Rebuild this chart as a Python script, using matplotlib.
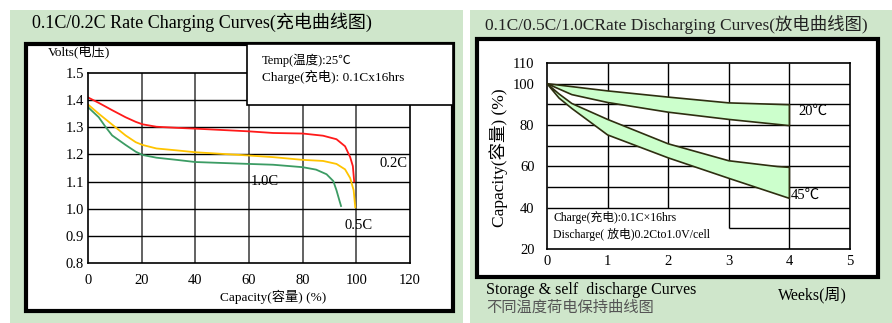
import matplotlib
matplotlib.use('Agg')
import matplotlib.pyplot as plt
from matplotlib.patches import Rectangle

# ---- data: charging curves (left) ----
red_x = [0, 4, 9, 14, 17.8, 20.3, 25.5, 33, 40, 60, 69, 80, 87.6, 92.6, 95.8, 97.7, 98.7, 99.2]
red_y = [1.41, 1.39, 1.363, 1.337, 1.32, 1.311, 1.302, 1.298, 1.295, 1.285, 1.279, 1.277, 1.269,
         1.256, 1.23, 1.19, 1.157, 1.10]

yel_x = [0, 4, 9, 14, 17.8, 20.3, 25.5, 33, 40, 60, 69, 80, 87.6, 92.6, 95.8, 97.7, 99, 99.6]
yel_y = [1.384, 1.35, 1.31, 1.27, 1.245, 1.235, 1.222, 1.215, 1.208, 1.196, 1.19, 1.18, 1.176,
         1.165, 1.145, 1.113, 1.068, 1.005]

grn_x = [0, 4, 6.5, 9, 14, 17.8, 20.3, 25.5, 33, 40, 60, 69, 80, 85, 88.9, 91.4, 92.6, 93.7, 94.3]
grn_y = [1.374, 1.337, 1.302, 1.27, 1.235, 1.21, 1.198, 1.188, 1.18, 1.172, 1.165, 1.162, 1.153,
         1.144, 1.127, 1.102, 1.068, 1.03, 1.01]

volt_ticks = [0.8, 0.9, 1.0, 1.1, 1.2, 1.3, 1.4, 1.5]
cap_ticks = [0, 20, 40, 60, 80, 100, 120]

# ---- data: storage curves (right) ----
w20_up_x = [0, 1, 2, 3, 4]
w20_up_y = [100, 96.5, 93.5, 90.7, 89.8]
w20_lo_x = [0, 0.41, 1, 2, 3, 4]
w20_lo_y = [100, 94.7, 90.9, 86.2, 82.7, 79.7]

w45_up_x = [0, 0.2, 0.41, 1, 2, 3, 3.8, 4]
w45_up_y = [100, 95, 90.4, 82.7, 70.9, 62.7, 59.9, 59.5]
w45_lo_x = [0, 0.2, 0.41, 1, 2, 3, 4]
w45_lo_y = [100, 93, 88, 75.2, 64.1, 54.2, 44.5]

week_ticks = [0, 1, 2, 3, 4, 5]
pct_ticks = [20, 40, 60, 80, 100, 110]

W, H = 892, 323
BG = '#cfe6cb'
SERIF = ['Liberation Serif', 'Noto Sans CJK SC', 'DejaVu Sans']
plt.rcParams['font.family'] = SERIF

fig = plt.figure(figsize=(W/100, H/100), dpi=100)
fig.patch.set_facecolor('white')


def fbox(x0, y0, x1, y1):
    return [x0/W, 1-y1/H, (x1-x0)/W, (y1-y0)/H]


def ftext(x, y, s, **kw):
    fig.text(x/W, 1-y/H, s, **kw)


def frect(x0, y0, x1, y1, **kw):
    b = fbox(x0, y0, x1, y1)
    fig.patches.append(Rectangle((b[0], b[1]), b[2], b[3],
                                 transform=fig.transFigure, figure=fig, **kw))


# green panels + white frames
frect(10, 10, 463, 323, facecolor=BG, edgecolor='none', zorder=-5)
frect(470, 10, 892, 323, facecolor=BG, edgecolor='none', zorder=-5)
frect(25.5, 43.5, 453, 310.5, facecolor='white', edgecolor='black', lw=3, zorder=-3)
frect(476.5, 38.5, 877.5, 276.5, facecolor='white', edgecolor='black', lw=3, zorder=-3)

ftext(32, 22, '0.1C/0.2C Rate Charging Curves(充电曲线图)', fontsize=13, va='center')
ftext(485, 24, '0.1C/0.5C/1.0CRate Discharging Curves(放电曲线图)', fontsize=12.5,
      va='center', color='#222222', zorder=-4)

# ---- left chart ----
ax = fig.add_axes(fbox(88, 73, 410, 263))
ax.set_facecolor('none')
ax.plot(red_x, red_y, color='#ff1a1a', lw=1.3)
ax.plot(yel_x, yel_y, color='#ffc400', lw=1.3)
ax.plot(grn_x, grn_y, color='#3c9c64', lw=1.3)
ax.set_xlim(0, 120)
ax.set_ylim(0.8, 1.5)
ax.set_xticks(cap_ticks)
ax.set_yticks(volt_ticks)
ax.set_yticklabels(['%.1f' % v for v in volt_ticks])
ax.tick_params(length=0, labelsize=10.5)
ax.tick_params(axis='x', pad=8)
ax.tick_params(axis='y', pad=3)
for v in cap_ticks[1:-1]:
    ax.axvline(v, color='#555555', lw=1.3, zorder=1)
for v in volt_ticks[1:-1]:
    ax.axhline(v, color='black', lw=1, zorder=1)
for s in ax.spines.values():
    s.set_linewidth(1.2)
ax.text(108.5, 1.168, '0.2C', fontsize=10.5, va='center')
ax.text(60.5, 1.10, '1.0C', fontsize=10.5, va='center')
ax.text(95.5, 0.94, '0.5C', fontsize=10.5, va='center')

ftext(48, 51, 'Volts(电压)', fontsize=9.5, va='center')
ftext(273, 297, 'Capacity(容量) (%)', fontsize=9.5, va='center', ha='center')

# note box on the left chart
frect(246.5, 43.5, 453, 105, facecolor='white', edgecolor='black', lw=1.2, zorder=5)
ftext(262, 60, 'Temp(温度):25℃', fontsize=9, va='center', zorder=6)
ftext(262, 77, 'Charge(充电): 0.1Cx16hrs', fontsize=9.5, va='center', zorder=6)

# ---- right chart ----
bx = fig.add_axes(fbox(547, 63, 850, 249))
bx.set_facecolor('none')
bx.set_xlim(0, 5)
bx.set_ylim(20, 110)
bx.set_xticks(week_ticks)
bx.set_yticks(pct_ticks)
bx.tick_params(length=0, labelsize=10.5)
bx.tick_params(axis='x', pad=4)
bx.tick_params(axis='y', pad=9)
for s in bx.spines.values():
    s.set_linewidth(1.2)

# grid, with the corner left clear for the note
bx.vlines([1, 2], 40, 110, color='black', lw=1)
bx.vlines([3], 30, 110, color='black', lw=1)
bx.vlines([4], 20, 110, color='black', lw=1)
bx.hlines([40, 50, 60, 70, 80, 90, 100], 0, 5, color='black', lw=1)
bx.hlines([30], 3, 5, color='black', lw=1)

edge = '#2e2e10'
bx.fill(w20_up_x + w20_lo_x[::-1], w20_up_y + w20_lo_y[::-1],
        facecolor='#ccffcc', edgecolor=edge, lw=1.2, zorder=3)
bx.fill(w45_up_x + w45_lo_x[::-1], w45_up_y + w45_lo_y[::-1],
        facecolor='#ccffcc', edgecolor=edge, lw=1.2, zorder=3)
bx.text(4.14, 86.5, '20℃', fontsize=10.5, va='center')
bx.text(4.02, 46, '45℃', fontsize=10.5, va='center')
bx.text(0.1, 35, 'Charge(充电):0.1C×16hrs', fontsize=8.5, va='center')
bx.text(0.1, 27, 'Discharge( 放电)0.2Cto1.0V/cell', fontsize=8.5, va='center')

ftext(499, 158, 'Capacity(容量) (%)', fontsize=12.5, va='center', ha='center',
      rotation=90)
ftext(486, 290, 'Storage & self  discharge Curves', fontsize=11.5, va='center')
ftext(486, 308, '不同温度荷电保持曲线图', fontsize=11, va='center', color='#555555')
ftext(778, 295, 'Weeks(周)', fontsize=11.5, va='center')

fig.savefig('out.png', dpi=100, facecolor='white')
